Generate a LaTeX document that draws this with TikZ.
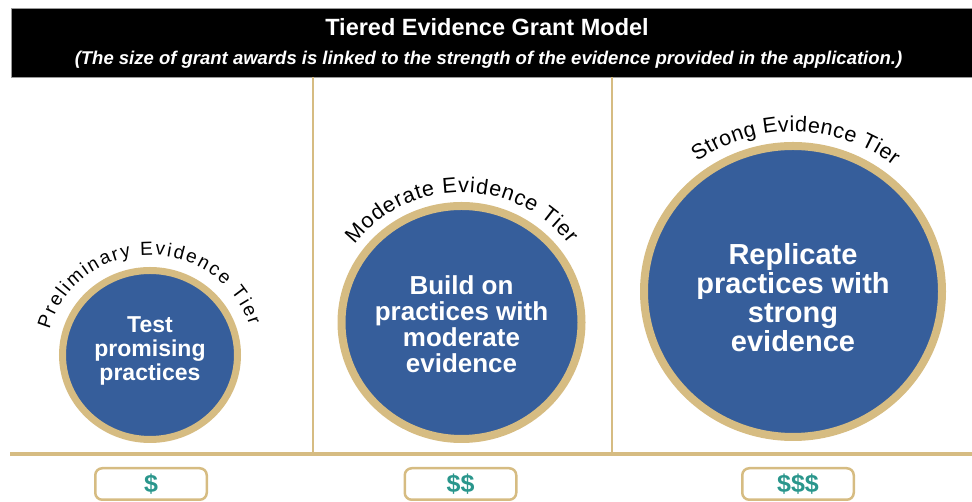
\documentclass[tikz,border=0pt]{standalone}
\usepackage{fontspec}
\setmainfont{Liberation Sans}
\usetikzlibrary{decorations.text}
\definecolor{tierblue}{RGB}{54,94,155}
\definecolor{tiergold}{RGB}{214,188,130}
\definecolor{tierteal}{RGB}{42,150,140}
\newcommand\arcfontA{\fontsize{19}{19}\selectfont}
\newcommand\arcfontB{\fontsize{21.5}{21.5}\selectfont}
\newcommand\arcfontC{\fontsize{21.5}{21.5}\selectfont}
\begin{document}
\begin{tikzpicture}[x=1pt,y=1pt,
  ringA/.style={draw=tiergold, fill=tierblue, line width=7pt},
  ringB/.style={draw=tiergold, fill=tierblue, line width=8pt},
  divider/.style={draw=tiergold, line width=1.5pt},
  baseline rule/.style={draw=tiergold, line width=3.5pt},
  ctext/.style={text=white, anchor=base, inner sep=0pt},
  money/.style={draw=tiergold, line width=2.5pt, rounded corners=7pt,
    minimum width=111.5pt, minimum height=31.5pt, text=tierteal,
    font=\bfseries\fontsize{25}{25}\selectfont, inner sep=0pt},
  arctext/.style={decorate, decoration={text along path, text={#1}, text align=fit to path}}
]
\useasboundingbox (0,0) rectangle (972,502);
% header
\filldraw[fill=black, draw=black!40, line width=0.8pt] (11,425) rectangle (972,494);
\node[anchor=base, text=white, inner sep=0pt, font=\bfseries\fontsize{23.5}{23.5}\selectfont] (title) at (487,466) {Tiered Evidence Grant Model};
\node[anchor=base, text=white, inner sep=0pt, font=\bfseries\itshape\fontsize{18.5}{18.5}\selectfont] (subtitle) at (488.5,437) {(The size of grant awards is linked to the strength of the evidence provided in the application.)};
% dividers
\draw[divider] (313,425) -- (313,49);
\draw[divider] (612,425) -- (612,49);
\draw[baseline rule] (10,48) -- (972,48);
% centres
\coordinate (c1) at (150,147);
\coordinate (c2) at (461.5,179.5);
\coordinate (c3) at (793,210.5);
% circles
\draw[ringA] (c1) ellipse [x radius=87.5, y radius=84.5];
\draw[ringB] (c2) ellipse [x radius=120, y radius=116.5];
\draw[ringB] (c3) ellipse [x radius=149, y radius=145.5];
% curved labels
\path[arctext={|\arcfontA|Preliminary Evidence Tier}] (c1) ++(165:104 and 100) arc[start angle=165, end angle=17, x radius=104, y radius=100];
\path[arctext={|\arcfontB|Moderate Evidence Tier}] (c2) ++(143:134 and 130) arc[start angle=143, end angle=37, x radius=134, y radius=130];
\path[arctext={|\arcfontC|Strong Evidence Tier}] (c3) ++(126:163 and 160) arc[start angle=126, end angle=52, x radius=163, y radius=160];
% circle texts
\begin{scope}[every node/.style={ctext, font=\bfseries\fontsize{23}{23}\selectfont}]
\node (a1) at (150,169) {Test};
\node (a2) at (150,145) {promising};
\node (a3) at (150,121) {practices};
\end{scope}
\begin{scope}[every node/.style={ctext, font=\bfseries\fontsize{26}{26}\selectfont}]
\node (b1) at (461.5,207) {Build on};
\node (b2) at (461.5,181) {practices with};
\node (b3) at (461.5,155) {moderate};
\node (b4) at (461.5,129) {evidence};
\end{scope}
\begin{scope}[every node/.style={ctext, font=\bfseries\fontsize{29}{29}\selectfont}]
\node (d1) at (793,237) {Replicate};
\node (d2) at (793,208) {practices with};
\node (d3) at (793,179) {strong};
\node (d4) at (793,150) {evidence};
\end{scope}
% money boxes
\node[money] (m1) at (151,18) {\$};
\node[money] (m2) at (460.5,18) {\$\$};
\node[money] (m3) at (798,18) {\$\$\$};
\end{tikzpicture}
\end{document}
